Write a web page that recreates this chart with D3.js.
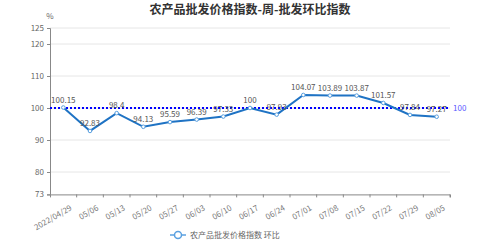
<!DOCTYPE html>
<html>
<head>
<meta charset="utf-8">
<script src="https://cdn.jsdelivr.net/npm/d3@7"></script>
<style>
body { margin: 0; background: #fff; }
text { font-family: "Microsoft YaHei", "Noto Sans CJK SC", sans-serif; }
</style>
</head>
<body>
<script>
// data
const dates = ["2022/04/29", "05/06", "05/13", "05/20", "05/27", "06/03", "06/10", "06/17",
  "06/24", "07/01", "07/08", "07/15", "07/22", "07/29", "08/05"];
const values = [100.15, 92.83, 98.4, 94.13, 95.59, 96.39, 97.33, 100, 97.93, 104.07, 103.89, 103.87, 101.57, 97.84, 97.27];
const yTicks = [73, 80, 90, 100, 110, 120, 125];
const baseLine = 100;

const svg = d3.select("body").append("svg").attr("width", 500).attr("height", 250);

const x = d3.scaleBand().domain(dates).range([50, 450]);
const y = d3.scaleLinear().domain([73, 125]).range([194.4, 28]);
const cx = d => x(d) + x.bandwidth() / 2;

// title
svg.append("text").attr("x", 250).attr("y", 14).attr("text-anchor", "middle")
  .attr("font-size", 12).attr("font-weight", "bold").attr("fill", "#333")
  .text("农产品批发价格指数-周-批发环比指数");
svg.append("text").attr("x", 50).attr("y", 19).attr("text-anchor", "middle")
  .attr("font-size", 8).attr("fill", "#666").text("%");

// grid
svg.append("g").selectAll("line").data(yTicks.filter(t => t !== 73)).enter().append("line")
  .attr("x1", 50).attr("x2", 450).attr("y1", d => y(d)).attr("y2", d => y(d))
  .attr("stroke", "#e6e6e6").attr("stroke-width", 1);

// y axis
const ya = svg.append("g").attr("transform", "translate(50,0)")
  .call(d3.axisLeft(y).tickValues(yTicks).tickSize(3).tickPadding(3));
ya.select(".domain").attr("stroke", "#888");
ya.selectAll("line").attr("stroke", "#888");
ya.selectAll("text").attr("fill", "#666").attr("font-size", 8);

// x axis
const xa = svg.append("g").attr("transform", `translate(0,${y(73)})`)
  .call(d3.axisBottom(x).tickSizeOuter(3).tickSizeInner(3));
xa.select(".domain").attr("stroke", "#888");
xa.selectAll(".tick line").attr("stroke", "#888").attr("x1", x.bandwidth() / 2).attr("x2", x.bandwidth() / 2);
xa.selectAll("text").attr("fill", "#777").attr("font-size", 8)
  .attr("text-anchor", "end").attr("dy", 0)
  .attr("transform", "translate(6,10) rotate(-30)");

// baseline 100
svg.append("line").attr("x1", 50).attr("x2", 450).attr("y1", y(baseLine)).attr("y2", y(baseLine))
  .attr("stroke", "#0000ff").attr("stroke-width", 2).attr("stroke-dasharray", "2,2");
svg.append("text").attr("x", 453).attr("y", y(baseLine) + 3).attr("font-size", 8)
  .attr("fill", "#5a5aff").text(baseLine);

// line
const line = d3.line().x((d, i) => cx(dates[i])).y(d => y(d));
svg.append("path").datum(values).attr("d", line).attr("fill", "none")
  .attr("stroke", "#1f73c4").attr("stroke-width", 2);
svg.selectAll(".pt").data(values).enter().append("circle")
  .attr("cx", (d, i) => cx(dates[i])).attr("cy", d => y(d)).attr("r", 1.8)
  .attr("fill", "#fff").attr("stroke", "#5aa0e0").attr("stroke-width", 1);

// labels
svg.selectAll(".lbl").data(values).enter().append("text")
  .attr("x", (d, i) => cx(dates[i])).attr("y", d => y(d) - 5)
  .attr("text-anchor", "middle").attr("font-size", 8).attr("fill", "#555")
  .text(d => d);

// legend
const lg = svg.append("g").attr("transform", "translate(170,235)");
lg.append("line").attr("x1", 0).attr("x2", 16).attr("stroke", "#5aa0e0").attr("stroke-width", 1.5);
lg.append("circle").attr("cx", 8).attr("r", 3.5).attr("fill", "#fff").attr("stroke", "#5aa0e0").attr("stroke-width", 1.5);
lg.append("text").attr("x", 20).attr("y", 3).attr("font-size", 8).attr("fill", "#666")
  .text("农产品批发价格指数  环比");
</script>
</body>
</html>
